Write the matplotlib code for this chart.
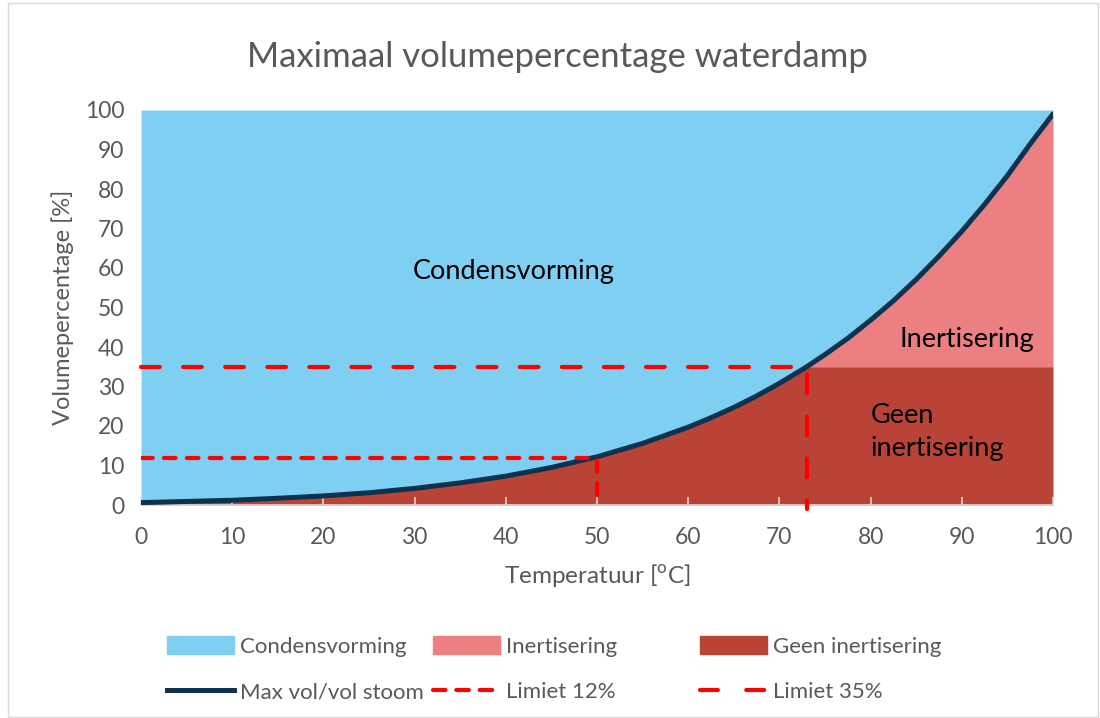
import matplotlib
matplotlib.use("Agg")
import matplotlib.pyplot as plt
import numpy as np
from matplotlib.patches import Patch, Rectangle
from matplotlib.lines import Line2D

plt.rcParams['font.family'] = ['Lato', 'DejaVu Sans']

# Data
temperature = [0, 5, 10, 15, 20, 25, 30, 35, 40, 45, 50, 55, 60, 62.5, 65, 67.5, 70, 73, 75,
               77.5, 80, 82.5, 85, 87.5, 90, 92.5, 95, 97.5, 100]
max_vol = [0.6, 0.9, 1.2, 1.7, 2.3, 3.1, 4.2, 5.6, 7.3, 9.5, 12.2, 15.6, 19.7, 22.1, 24.7, 27.6,
           30.8, 35.0, 38.1, 42.2, 46.8, 51.7, 57.1, 63.0, 69.3, 76.1, 83.4, 91.4, 99.0]
limit_12 = 12
limit_12_temp = 50
limit_35 = 35
limit_35_temp = 73
x_ticks = list(range(0, 101, 10))
y_ticks = list(range(0, 101, 10))

c_blue = '#7FCFF3'
c_pink = '#EC7F81'
c_dark = '#B94337'
c_line = '#0B324F'
c_red = '#FF0000'
c_text = '#595959'

t = np.array(temperature, dtype=float)
v = np.array(max_vol, dtype=float)
geen = np.minimum(v, limit_35)

fig = plt.figure(figsize=(11, 7.18), dpi=100)
ax = fig.add_axes([141/1100, 1-505/718, (1053-141)/1100, (505-110)/718])

ax.fill_between(t, v, 100, color=c_blue, lw=0, zorder=1)
ax.fill_between(t, geen, v, color=c_pink, lw=0, zorder=1)
ax.fill_between(t, 0, geen, color=c_dark, lw=0, zorder=1)

ax.plot(t, v, color=c_line, lw=3.6, solid_capstyle='round', solid_joinstyle='round', zorder=4)

ax.plot([0, limit_12_temp, limit_12_temp], [limit_12, limit_12, 0], color=c_red, lw=3,
        dash_capstyle='round', dashes=(2.8, 2.7), zorder=5)
ax.plot([0, limit_35_temp, limit_35_temp], [limit_35, limit_35, -1], color=c_red, lw=3,
        dash_capstyle='round', dashes=(4.5, 5.6), zorder=5, clip_on=False)

ax.set_xlim(0, 100)
ax.set_ylim(0, 100)
ax.set_xticks(x_ticks)
ax.set_yticks(y_ticks)
for s in ['top', 'right', 'left']:
    ax.spines[s].set_visible(False)
ax.spines['bottom'].set_color('#D9D9D9')
ax.spines['bottom'].set_linewidth(1.2)
ax.spines['bottom'].set_zorder(3)
ax.tick_params(axis='x', direction='in', length=6, color='#D9D9D9', width=1.2,
               labelsize=16.5, labelcolor=c_text, pad=16)
ax.tick_params(axis='y', length=0, labelsize=16.5, labelcolor=c_text, pad=12)

ax.set_xlabel('Temperatuur [$^{\\mathregular{o}}$C]', fontsize=17.5, color=c_text, labelpad=10)
ax.set_ylabel('Volumepercentage [%]', fontsize=17, color=c_text, labelpad=8)

ax.text(40.9, 59, 'Condensvorming', fontsize=19.5, color='black', ha='center', va='center', zorder=6)
ax.text(90.6, 41.8, 'Inertisering', fontsize=19.5, color='black', ha='center', va='center', zorder=6)
ax.text(80.0, 18.5, 'Geen\ninertisering', fontsize=19.5, color='black', ha='left', va='center',
        linespacing=1.4, zorder=6)

fig.text(557/1100, 1-57/718, 'Maximaal volumepercentage waterdamp', fontsize=25, color=c_text,
         ha='center', va='center')

# Legends (three columns)
cols = [
    ([Patch(color=c_blue), Line2D([], [], color=c_line, lw=3.6)], ['Condensvorming', 'Max vol/vol stoom'], 167),
    ([Patch(color=c_pink), Line2D([], [], color=c_red, lw=3, dashes=(3.0, 2.6), dash_capstyle='round')],
     ['Inertisering', 'Limiet 12%'], 433),
    ([Patch(color=c_dark), Line2D([], [], color=c_red, lw=3, dashes=(4.3, 6.8), dash_capstyle='round')],
     ['Geen inertisering', 'Limiet 35%'], 700),
]
for handles, labels, xpx in cols:
    fig.legend(handles, labels, loc='upper left', bbox_to_anchor=(xpx/1100, 1-636/718),
               frameon=False, fontsize=16, labelcolor=c_text, handlelength=3.0,
               handleheight=0.9, handletextpad=0.3, labelspacing=1.1, borderaxespad=0,
               borderpad=0)

fig.add_artist(Rectangle((8/1100, 0.002), 1-10/1100, 0.994, transform=fig.transFigure,
                         fill=False, edgecolor='#D9D9D9', lw=1))

fig.savefig('out.png', dpi=100)
